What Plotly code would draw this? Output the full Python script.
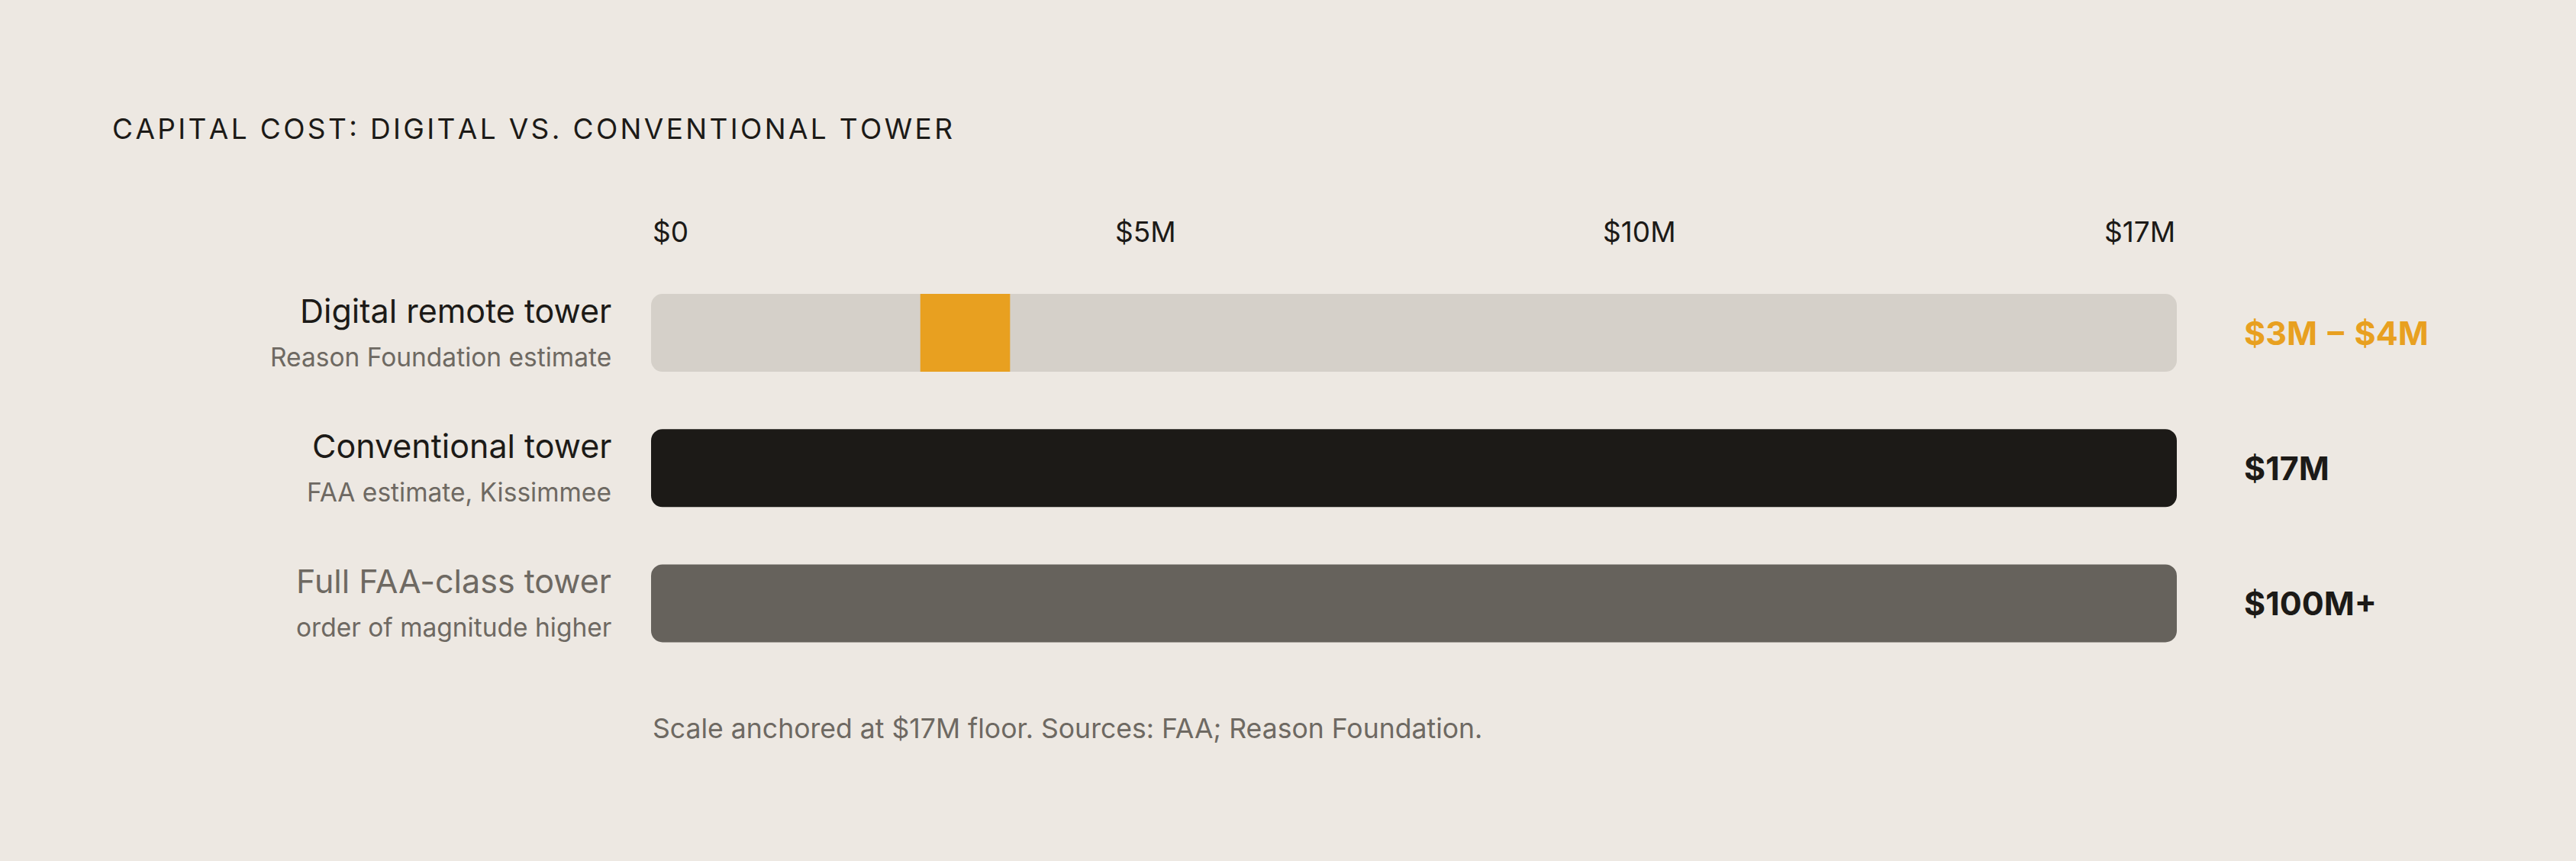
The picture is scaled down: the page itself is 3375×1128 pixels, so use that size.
import plotly.graph_objects as go

# rows, top to bottom
rows = ["Digital remote tower", "Conventional tower", "Full FAA-class tower"]
notes = ["Reason Foundation estimate", "FAA estimate, Kissimmee", "order of magnitude higher"]
bar_start = [3, 0, 0]          # $M
bar_end = [4, 17, 17]          # $M (scale capped at 17)
value_labels = ["$3M \u200a\u2013\u200a $4M", "$17M", "$100M+"]
scale_max = 17
tick_labels = ["$0", "$5M", "$10M", "$17M"]
tick_pos = [0, 0.324, 0.648, 1]   # label positions across the track (space-between layout)
title = "CAPITAL COST: DIGITAL VS. CONVENTIONAL TOWER"
footnote = "Scale anchored at $17M floor. Sources: FAA; Reason Foundation."

BG = "#EDE8E2"
TRACK = "#D5D0C9"
ORANGE = "#E8A020"
INK = "#1C1A17"
GREY = "#66625C"
MUTED = "#6E6962"

FONT = "Inter"
bar_colors = [TRACK, INK, GREY]
label_colors = [INK, INK, MUTED]
value_colors = [ORANGE, INK, INK]

fig = go.Figure()
ys = list(range(len(rows)))

# full-width track / bars (explicit base -> both ends rounded)
fig.add_trace(go.Bar(
    y=ys, x=[scale_max] * len(rows), base=[0] * len(rows),
    orientation="h", marker=dict(color=bar_colors, cornerradius=15, line_width=0),
    width=0.576, hoverinfo="skip"))

# digital tower range segment
fig.add_trace(go.Bar(
    y=[0], x=[bar_end[0] - bar_start[0]], base=[bar_start[0]],
    orientation="h", marker=dict(color=ORANGE, line_width=0),
    width=0.576, hoverinfo="skip"))

ann = []
for i, r in enumerate(rows):
    ann.append(dict(x=0, y=i, xref="x", yref="y", text=r, showarrow=False,
                    xanchor="right", yanchor="middle", xshift=-50, yshift=29,
                    font=dict(family=FONT, size=43, color=label_colors[i])))
    ann.append(dict(x=0, y=i, xref="x", yref="y", text=notes[i], showarrow=False,
                    xanchor="right", yanchor="middle", xshift=-50, yshift=-32,
                    font=dict(family=FONT, size=33.5, color=MUTED)))
    ann.append(dict(x=scale_max, y=i, xref="x", yref="y", text="<b>" + value_labels[i] + "</b>",
                    showarrow=False, xanchor="left", yanchor="middle", xshift=86,
                    font=dict(family=FONT, size=43, color=value_colors[i])))

anchors = ["left", "center", "center", "right"]
dom0, dom1 = 853 / 3375, 2852 / 3375
for t, p, a in zip(tick_labels, tick_pos, anchors):
    ann.append(dict(x=dom0 + p * (dom1 - dom0), y=0.7305, xref="paper", yref="paper", text=t,
                    showarrow=False, xanchor=a, yanchor="middle",
                    font=dict(family=FONT, size=37, color=INK)))

ann.append(dict(x=0.043, y=0.851, xref="paper", yref="paper",
                text="\u200a".join(title), showarrow=False, xanchor="left", yanchor="middle",
                font=dict(family=FONT, size=37, color=INK)))
ann.append(dict(x=0, y=0.1535, xref="x", yref="paper", text=footnote, showarrow=False,
                xanchor="left", yanchor="middle",
                font=dict(family=FONT, size=35.6, color=MUTED)))

fig.update_layout(
    width=3375, height=1128,
    paper_bgcolor=BG, plot_bgcolor=BG,
    margin=dict(l=0, r=0, t=0, b=0),
    barmode="overlay", showlegend=False,
    xaxis=dict(domain=[dom0, dom1], range=[0, scale_max], visible=False, fixedrange=True),
    yaxis=dict(domain=[0.2207, 0.6920], range=[2.5, -0.5], visible=False, fixedrange=True),
    annotations=ann,
)

fig.write_html("out.html", config={"displayModeBar": False},
               post_script="document.body.style.margin='0';document.body.style.background='" + BG + "';")
